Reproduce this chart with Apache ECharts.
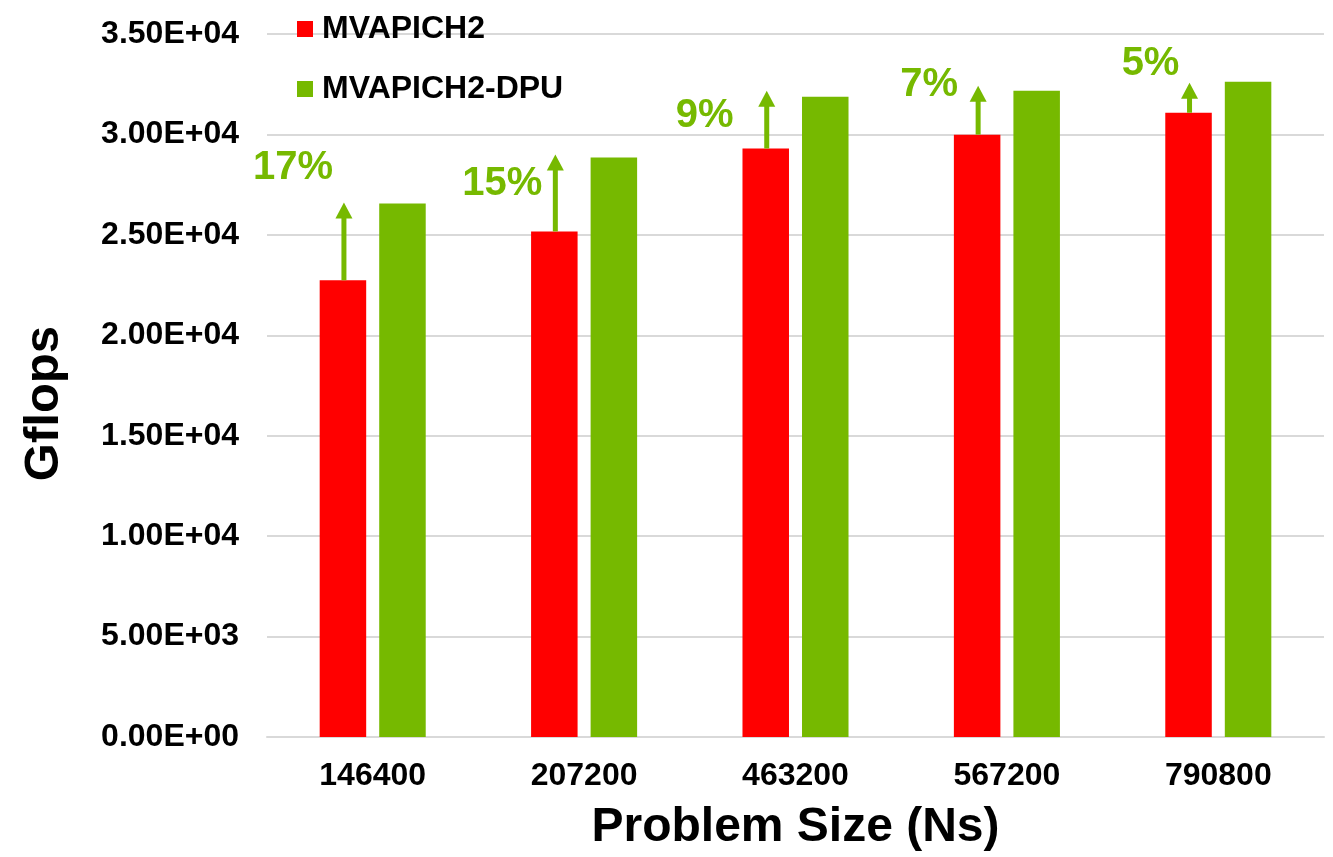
<!DOCTYPE html>
<html>
<head>
<meta charset="utf-8">
<script src="https://cdn.jsdelivr.net/npm/echarts@6/dist/echarts.min.js"></script>
<style>
html,body{margin:0;padding:0;background:#fff;}
#chart{width:1333px;height:857px;}
</style>
</head>
<body>
<div id="chart"></div>
<script>
// ---- data ----
var categories = ['146400', '207200', '463200', '567200', '790800'];
var mvapich2 = [22740, 25170, 29300, 29990, 31080];
var mvapich2Dpu = [26560, 28850, 31880, 32170, 32620];
var arrowTips = [26610, 29000, 32170, 32420, 32570];
var gainLabels = ['17%', '15%', '9%', '7%', '5%'];
var seriesNames = ['MVAPICH2', 'MVAPICH2-DPU'];
var yTicks = { min: 0, max: 35000, interval: 5000 };

// ---- style ----
var RED = '#FF0000', GREEN = '#76B900';
var FONT = '"Liberation Sans", Arial, sans-serif';
var labelOffsets = [[-51, -35], [-53, 29], [-62, 25], [-49, -1], [-39, -19]];
var BAR_W = 0.22, BAR_GAP = 0.28;

function sci(v) {
  if (v === 0) return '0.00E+00';
  var e = Math.floor(Math.log10(Math.abs(v)));
  var m = v / Math.pow(10, e);
  var es = (e < 0 ? '-' : '+') + (Math.abs(e) < 10 ? '0' : '') + Math.abs(e);
  return m.toFixed(2) + 'E' + es;
}

var arrowData = categories.map(function (c, i) { return [i, mvapich2[i], arrowTips[i]]; });

var chart = echarts.init(document.getElementById('chart'));
chart.setOption({
  animation: false,
  textStyle: { fontFamily: FONT },
  grid: { left: 267, right: 9, top: 34, bottom: 118 },
  legend: {
    orient: 'vertical', left: 292, top: 8,
    itemWidth: 16, itemHeight: 16, itemGap: 28,
    icon: 'rect',
    textStyle: { fontFamily: FONT, fontWeight: 'bold', fontSize: 32, color: '#000', padding: [0, 0, 0, 4] },
    data: seriesNames
  },
  xAxis: {
    type: 'category', data: categories,
    axisLine: { lineStyle: { color: '#d9d9d9', width: 2 } },
    axisTick: { show: false },
    axisLabel: { fontFamily: FONT, fontWeight: 'bold', fontSize: 32, color: '#000', margin: 23 },
    name: 'Problem Size (Ns)', nameLocation: 'middle', nameGap: 67,
    nameTextStyle: { fontFamily: FONT, fontWeight: 'bold', fontSize: 48, color: '#000' }
  },
  yAxis: {
    type: 'value', min: yTicks.min, max: yTicks.max, interval: yTicks.interval,
    axisLine: { show: false }, axisTick: { show: false },
    splitLine: { lineStyle: { color: '#d9d9d9', width: 2 } },
    axisLabel: { fontFamily: FONT, fontWeight: 'bold', fontSize: 32, color: '#000', margin: 28, formatter: sci }
  },
  graphic: [{
    type: 'text', left: 20, top: 326, rotation: Math.PI / 2,
    style: { text: 'Gflops', fontFamily: FONT, fontWeight: 'bold', fontSize: 49, fill: '#000' }
  }],
  series: [
    { name: seriesNames[0], type: 'bar', data: mvapich2, barWidth: (BAR_W * 100) + '%', barGap: (BAR_GAP * 100) + '%', itemStyle: { color: RED } },
    { name: seriesNames[1], type: 'bar', data: mvapich2Dpu, barWidth: (BAR_W * 100) + '%', barGap: (BAR_GAP * 100) + '%', itemStyle: { color: GREEN } },
    {
      type: 'custom', data: arrowData, z: 10,
      renderItem: function (params, api) {
        var idx = api.value(0);
        var base = api.coord([idx, api.value(1)]);
        var tip = api.coord([idx, api.value(2)]);
        var catW = api.size([1, 0])[0];
        var x = base[0] - (BAR_W + BAR_W * BAR_GAP) / 2 * catW + 1;
        var headH = 16, headW = 17;
        var off = labelOffsets[params.dataIndex];
        return {
          type: 'group',
          children: [
            { type: 'line', shape: { x1: x, y1: base[1], x2: x, y2: tip[1] + headH - 1 }, style: { stroke: GREEN, lineWidth: 5 } },
            { type: 'polygon', shape: { points: [[x, tip[1]], [x - headW / 2, tip[1] + headH], [x + headW / 2, tip[1] + headH]] }, style: { fill: GREEN } },
            { type: 'text', x: x + off[0], y: tip[1] + off[1], style: { text: gainLabels[params.dataIndex], fontFamily: FONT, fontWeight: 'bold', fontSize: 40, fill: GREEN, align: 'center', verticalAlign: 'middle' } }
          ]
        };
      }
    }
  ]
});
</script>
</body>
</html>
